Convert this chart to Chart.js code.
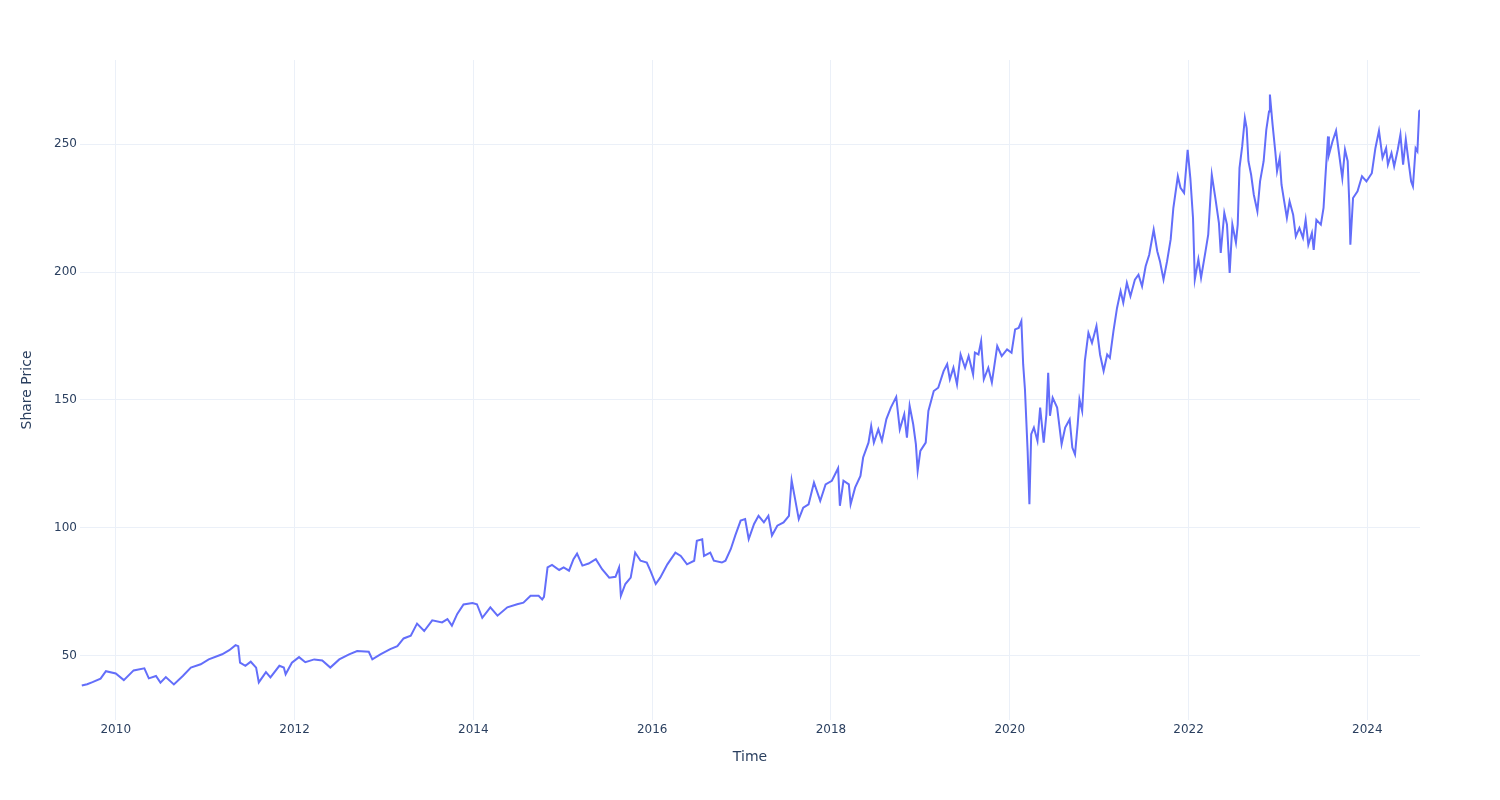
<!DOCTYPE html>
<html>
<head>
<meta charset="utf-8">
<script src="https://cdn.jsdelivr.net/npm/chart.js@4.4.1/dist/chart.umd.min.js"></script>
<style>
  html, body { margin: 0; padding: 0; background: #fff; }
  #wrap { width: 1500px; height: 800px; }
</style>
</head>
<body>
<div id="wrap"><canvas id="grafico" width="1500" height="800"></canvas></div>
<script>
// Datas em anos decimais
const dates = [
  2009.62, 2009.68, 2009.74, 2009.83, 2009.89, 2010.00, 2010.09, 2010.20, 2010.32, 2010.37,
  2010.45, 2010.50, 2010.56, 2010.65, 2010.75, 2010.84, 2010.95, 2011.04, 2011.19, 2011.27,
  2011.34, 2011.37, 2011.39, 2011.45, 2011.51, 2011.57, 2011.60, 2011.68, 2011.73, 2011.83,
  2011.88, 2011.90, 2011.97, 2012.05, 2012.12, 2012.22, 2012.31, 2012.40, 2012.50, 2012.61,
  2012.70, 2012.83, 2012.87, 2012.96, 2013.07, 2013.15, 2013.22, 2013.30, 2013.37, 2013.45,
  2013.54, 2013.65, 2013.71, 2013.76, 2013.82, 2013.89, 2013.99, 2014.04, 2014.10, 2014.19,
  2014.27, 2014.38, 2014.49, 2014.56, 2014.64, 2014.73, 2014.77, 2014.79, 2014.83, 2014.88,
  2014.96, 2015.01, 2015.07, 2015.12, 2015.16, 2015.22, 2015.29, 2015.37, 2015.44, 2015.52,
  2015.59, 2015.63, 2015.65, 2015.70, 2015.76, 2015.81, 2015.87, 2015.94, 2015.98, 2016.04,
  2016.09, 2016.17, 2016.26, 2016.32, 2016.39, 2016.47, 2016.50, 2016.56, 2016.58, 2016.65,
  2016.69, 2016.78, 2016.82, 2016.88, 2016.93, 2016.99, 2017.04, 2017.08, 2017.14, 2017.19,
  2017.25, 2017.30, 2017.34, 2017.40, 2017.47, 2017.53, 2017.56, 2017.60, 2017.64, 2017.69,
  2017.75, 2017.81, 2017.88, 2017.94, 2018.01, 2018.08, 2018.10, 2018.14, 2018.20, 2018.22,
  2018.27, 2018.33, 2018.36, 2018.42, 2018.45, 2018.48, 2018.53, 2018.57, 2018.62, 2018.67,
  2018.73, 2018.77, 2018.82, 2018.85, 2018.88, 2018.92, 2018.95, 2018.97, 2019.00, 2019.06,
  2019.09, 2019.15, 2019.20, 2019.26, 2019.30, 2019.33, 2019.37, 2019.41, 2019.45, 2019.50,
  2019.54, 2019.59, 2019.61, 2019.65, 2019.68, 2019.71, 2019.76, 2019.80, 2019.86, 2019.91,
  2019.97, 2020.02, 2020.06, 2020.10, 2020.13, 2020.15, 2020.17, 2020.20, 2020.22, 2020.24,
  2020.27, 2020.31, 2020.34, 2020.38, 2020.41, 2020.43, 2020.45, 2020.48, 2020.53, 2020.58,
  2020.62, 2020.67, 2020.70, 2020.73, 2020.76, 2020.78, 2020.81, 2020.84, 2020.88, 2020.92,
  2020.97, 2021.01, 2021.05, 2021.09, 2021.12, 2021.16, 2021.20, 2021.24, 2021.27, 2021.31,
  2021.35, 2021.40, 2021.44, 2021.48, 2021.52, 2021.56, 2021.61, 2021.65, 2021.68, 2021.72,
  2021.76, 2021.80, 2021.83, 2021.88, 2021.91, 2021.95, 2021.99, 2022.02, 2022.05, 2022.07,
  2022.11, 2022.14, 2022.19, 2022.22, 2022.26, 2022.30, 2022.34, 2022.36, 2022.40, 2022.43,
  2022.46, 2022.49, 2022.53, 2022.55, 2022.57, 2022.60, 2022.63, 2022.65, 2022.67, 2022.70,
  2022.73, 2022.77, 2022.80, 2022.84, 2022.87, 2022.90, 2022.91, 2022.94, 2022.97, 2022.99,
  2023.02, 2023.04, 2023.07, 2023.10, 2023.13, 2023.17, 2023.20, 2023.24, 2023.28, 2023.31,
  2023.34, 2023.38, 2023.40, 2023.43, 2023.48, 2023.51, 2023.53, 2023.56, 2023.57, 2023.61,
  2023.65, 2023.68, 2023.72, 2023.75, 2023.78, 2023.80, 2023.81, 2023.84, 2023.89, 2023.94,
  2023.99, 2024.05, 2024.09, 2024.13, 2024.17, 2024.21, 2024.23, 2024.27, 2024.30, 2024.34,
  2024.37, 2024.40, 2024.43, 2024.47, 2024.49, 2024.51, 2024.54, 2024.56, 2024.58, 2024.589
];

// Preço da ação
const prices = [
  38.3, 38.8, 39.6, 41.0, 43.9, 43.0, 40.4, 44.2, 45.0, 41.1,
  42.0, 39.4, 41.6, 38.7, 42.0, 45.3, 46.6, 48.5, 50.5, 52.1,
  54.1, 53.7, 47.2, 46.0, 47.6, 45.3, 39.5, 43.5, 41.5, 46.0,
  45.3, 42.7, 47.2, 49.4, 47.4, 48.5, 48.1, 45.3, 48.5, 50.5,
  51.8, 51.5, 48.5, 50.5, 52.5, 53.7, 56.7, 57.8, 62.5, 59.6,
  63.8, 63.0, 64.3, 61.7, 66.3, 70.0, 70.6, 70.1, 64.8, 68.9,
  65.6, 68.9, 70.1, 70.7, 73.4, 73.4, 72.0, 73.0, 84.5, 85.5,
  83.5, 84.5, 83.2, 87.7, 89.9, 85.2, 86.0, 87.7, 83.8, 80.5,
  80.8, 84.5, 73.4, 78.0, 80.5, 90.3, 87.1, 86.4, 83.2, 78.0,
  80.5, 85.7, 90.3, 89.0, 85.7, 87.1, 94.9, 95.5, 89.0, 90.3,
  87.1, 86.4, 87.1, 91.7, 97.0, 102.8, 103.4, 95.6, 101.5, 104.7,
  102.1, 104.7, 97.0, 100.8, 102.1, 104.7, 118.6, 111.0, 103.4, 107.9,
  109.2, 117.7, 110.5, 117.0, 118.4, 123.3, 108.6, 118.4, 117.0, 109.2,
  115.7, 120.3, 127.5, 133.3, 139.8, 133.3, 138.5, 134.0, 142.5, 147.0,
  151.2, 138.5, 144.4, 135.3, 147.7, 140.5, 132.7, 122.3, 130.1, 133.3,
  145.7, 153.5, 154.8, 161.3, 164.0, 158.1, 162.6, 156.1, 167.8, 162.6,
  167.2, 160.0, 168.5, 167.8, 173.0, 158.1, 162.6, 156.8, 171.1, 167.2,
  169.8, 168.5, 177.6, 178.2, 180.9, 164.0, 154.2, 130.1, 109.2, 136.6,
  139.2, 134.0, 147.0, 133.3, 144.4, 160.6, 143.8, 150.9, 147.0, 132.7,
  139.2, 142.4, 131.4, 128.7, 140.5, 150.2, 145.7, 165.2, 176.3, 172.3,
  178.9, 167.8, 161.3, 167.8, 166.5, 176.9, 186.0, 192.6, 188.0, 195.8,
  190.6, 197.1, 199.0, 194.5, 202.3, 206.8, 216.6, 208.2, 204.3, 197.1,
  204.3, 212.8, 225.1, 237.5, 233.0, 231.0, 247.9, 236.8, 221.2, 197.1,
  205.0, 197.8, 208.2, 214.7, 238.1, 229.0, 219.2, 207.5, 223.2, 218.6,
  199.7, 218.6, 211.5, 218.6, 240.8, 249.2, 260.3, 256.4, 243.4, 238.1,
  230.3, 223.8, 235.5, 243.4, 255.8, 262.9, 269.5, 257.7, 247.3, 239.5,
  244.7, 234.2, 227.7, 221.2, 227.7, 222.5, 214.0, 217.3, 213.4, 220.5,
  210.7, 215.3, 208.7, 220.5, 218.6, 225.1, 236.8, 253.1, 245.9, 251.1,
  255.3, 247.3, 236.8, 247.9, 243.4, 225.1, 210.7, 229.0, 231.6, 237.5,
  235.5, 238.7, 248.5, 255.3, 244.7, 248.5, 242.1, 246.6, 241.4, 247.9,
  253.8, 242.1, 251.9, 240.8, 235.5, 233.6, 248.5, 247.3, 262.9, 263.5
];

const anosTicks = [2010, 2012, 2014, 2016, 2018, 2020, 2022, 2024];
const precoTicks = [50, 100, 150, 200, 250];

const corTexto = '#2a3f5f';
const corGrade = '#ebf0f8';

const ctx = document.getElementById('grafico').getContext('2d');
new Chart(ctx, {
  type: 'line',
  data: {
    datasets: [{
      label: 'Share Price',
      data: dates.map((d, i) => ({ x: d, y: prices[i] })),
      borderColor: '#636efa',
      borderWidth: 2,
      pointRadius: 0,
      tension: 0,
      fill: false
    }]
  },
  options: {
    responsive: false,
    animation: false,
    devicePixelRatio: 1,
    layout: { padding: { left: 0, right: 80, top: 60, bottom: 0 } },
    plugins: { legend: { display: false }, tooltip: { enabled: false } },
    scales: {
      x: {
        type: 'linear',
        min: 2009.6,
        max: 2024.589,
        afterBuildTicks: s => { s.ticks = anosTicks.map(v => ({ value: v })); },
        afterFit: s => { s.height = 80; },
        border: { display: false },
        grid: { color: corGrade, lineWidth: 1, drawTicks: false },
        ticks: {
          color: corTexto,
          font: { family: 'DejaVu Sans', size: 12 },
          padding: 3,
          maxRotation: 0,
          callback: v => String(v)
        },
        title: {
          display: true,
          text: 'Time',
          color: corTexto,
          font: { family: 'DejaVu Sans', size: 14 },
          padding: { top: 0, bottom: 34 }
        }
      },
      y: {
        min: 24.8,
        max: 283.0,
        afterBuildTicks: s => { s.ticks = precoTicks.map(v => ({ value: v })); },
        afterFit: s => { s.width = 80; },
        border: { display: false },
        grid: { color: corGrade, lineWidth: 1, drawTicks: false },
        ticks: {
          color: corTexto,
          font: { family: 'DejaVu Sans', size: 12 },
          padding: 3
        },
        title: {
          display: true,
          text: 'Share Price',
          color: corTexto,
          font: { family: 'DejaVu Sans', size: 14 },
          padding: { top: 19, bottom: 0 }
        }
      }
    }
  }
});
</script>
</body>
</html>
